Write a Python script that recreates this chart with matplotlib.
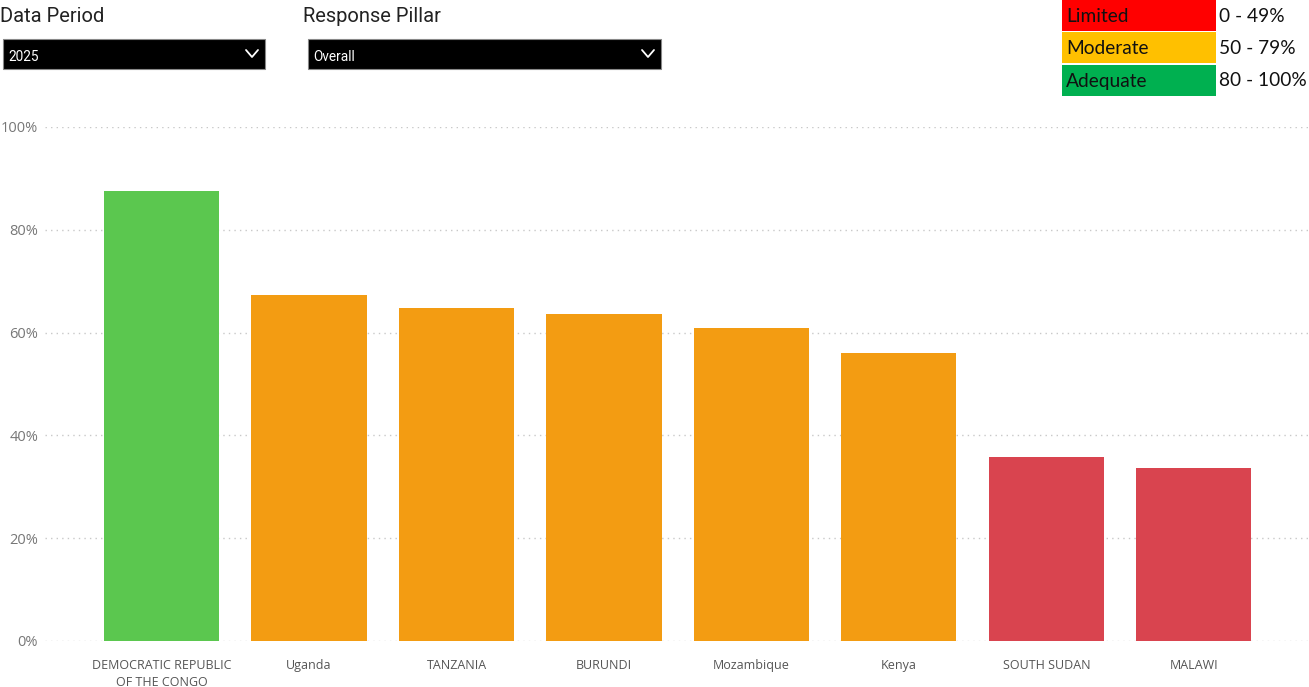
import matplotlib
matplotlib.use("Agg")
import matplotlib.pyplot as plt
from matplotlib.patches import Rectangle
from matplotlib.ticker import PercentFormatter, MultipleLocator

# Overall response score by country, 2025
countries = ["DEMOCRATIC REPUBLIC\nOF THE CONGO", "Uganda", "TANZANIA", "BURUNDI",
             "Mozambique", "Kenya", "SOUTH SUDAN", "MALAWI"]
scores = [87.5, 67.3, 64.8, 63.6, 60.9, 56.0, 35.8, 33.7]

# Rating bands
band_names = ["Limited", "Moderate", "Adequate"]
band_ranges = ["0 - 49%", "50 - 79%", "80 - 100%"]
band_legend_colors = ["#FF0000", "#FFC000", "#00B050"]
bar_colors = {"Limited": "#D9444F", "Moderate": "#F39C12", "Adequate": "#5BC74F"}

filter_labels = ["Data Period", "Response Pillar"]
filter_values = ["2025", "Overall"]


def band_of(v):
    if v < 50:
        return "Limited"
    if v < 80:
        return "Moderate"
    return "Adequate"


W, H = 1309, 687
fig = plt.figure(figsize=(W / 100, H / 100), dpi=100)
fig.patch.set_facecolor("white")

# Bar chart
ax = fig.add_axes([45 / W, 46 / H, (W - 45) / W, 514 / H])
x = list(range(len(countries)))
ax.bar(x, scores, width=0.78, color=[bar_colors[band_of(v)] for v in scores], zorder=2)
ax.set_ylim(0, 100)
ax.set_xlim(-0.79, 7.78)
ax.yaxis.set_major_locator(MultipleLocator(20))
ax.yaxis.set_major_formatter(PercentFormatter(decimals=0))
ax.grid(axis="y", color="#C8C8C8", linestyle=(0, (1, 3)), linewidth=1, zorder=0)
for s in ax.spines.values():
    s.set_visible(False)
ax.tick_params(axis="both", length=0)
ax.tick_params(axis="y", labelsize=10.5, labelcolor="#777777", pad=5)
ax.set_xticks(x)
ax.set_xticklabels(countries, fontsize=9, color="#555555", linespacing=1.4)
ax.tick_params(axis="x", pad=13)
for lbl in ax.get_yticklabels() + ax.get_xticklabels():
    lbl.set_family("Open Sans")

# Header overlay in pixel coordinates
ov = fig.add_axes([0, 0, 1, 1], facecolor="none")
ov.set_xlim(0, W)
ov.set_ylim(H, 0)
ov.axis("off")

filter_boxes = [(3, 265), (308, 661)]
filter_title_x = [0, 303]
for (x0, x1), tx, title, val in zip(filter_boxes, filter_title_x, filter_labels, filter_values):
    ov.text(tx, 17, title, fontsize=14.5, color="#222222", va="center", ha="left",
            family="Roboto")
    ov.add_patch(Rectangle((x0, 39), x1 - x0, 30, facecolor="black", edgecolor="#888888",
                           linewidth=0.8))
    ov.text(x0 + 5, 57, val, fontsize=9.8, color="white", va="center", ha="left",
            family="Roboto")
    cx = x1 - 13
    ov.plot([cx - 6, cx, cx + 6], [50, 57, 50], color="white", linewidth=1.3,
            solid_capstyle="round")

# Rating band key
row_tops = [0, 32, 65]
for top, name, rng, col in zip(row_tops, band_names, band_ranges, band_legend_colors):
    ov.add_patch(Rectangle((1062, top), 154, 31, facecolor=col, edgecolor="none"))
    ov.text(1066, top + 16, name, fontsize=13.8, color="#111111", va="center", ha="left",
            family="Lato")
    ov.text(1219, top + 16, rng, fontsize=13.8, color="#111111", va="center", ha="left",
            family="Lato")

fig.savefig("out.png", dpi=100, facecolor="white")
